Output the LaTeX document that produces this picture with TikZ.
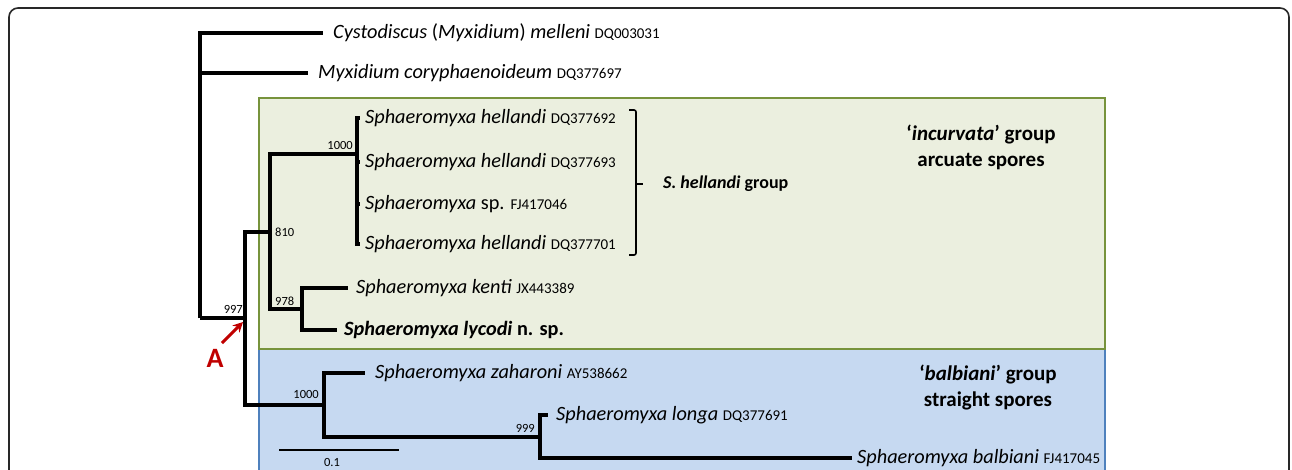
\documentclass[tikz,border=0pt]{standalone}
\usepackage{fontspec}
\setmainfont{Carlito}
\usetikzlibrary{arrows.meta,calc}
\definecolor{gfill}{RGB}{235,239,223}
\definecolor{gline}{RGB}{119,147,60}
\definecolor{bfill}{RGB}{198,217,241}
\definecolor{bline}{RGB}{79,129,189}
\definecolor{ared}{RGB}{192,0,0}
\definecolor{frame}{RGB}{40,40,40}
\newcommand{\acc}[1]{{\fontsize{15}{15}\selectfont #1}}
\begin{document}
\begin{tikzpicture}[x=1pt,y=-1pt,
  br/.style={line width=3.3pt, line join=miter},
  leaf/.style={anchor=west, inner ysep=0pt, font=\fontsize{20.3}{21}\selectfont},
  boot/.style={inner sep=1pt, font=\fontsize{12.5}{12.5}\selectfont},
  grp/.style={align=center, font=\bfseries\fontsize{21}{26}\selectfont}]
\useasboundingbox (0,0) rectangle (1292,469);
\clip (0,0) rectangle (1292,469);
% frame and group boxes
\draw[frame, line width=1.6pt, rounded corners=9pt] (9,8) rectangle (1289,520);
\draw[bline, fill=bfill, line width=1.6pt] (259,349) rectangle (1105,520);
\draw[gline, fill=gfill, line width=1.6pt] (259,98) rectangle (1105,349);
% internal nodes
\coordinate (r) at (200,318);
\coordinate (A) at (245,318);
\coordinate (n810) at (270,232);
\coordinate (nh) at (357,154);
\coordinate (n978) at (302,309);
\coordinate (nb) at (324,405);
\coordinate (n999) at (540,437);
% leaves
\node[leaf, inner xsep=10pt] (c1) at (323,33) {\textit{Cystodiscus} (\textit{Myxidium}) \textit{melleni} \acc{DQ003031}};
\node[leaf, inner xsep=10pt] (c2) at (308,73) {\textit{Myxidium coryphaenoideum} \acc{DQ377697}};
\node[leaf, inner xsep=5pt] (h1) at (360,118) {\textit{Sphaeromyxa hellandi} \acc{DQ377692}};
\node[leaf, inner xsep=5pt] (h2) at (360,162) {\textit{Sphaeromyxa hellandi} \acc{DQ377693}};
\node[leaf, inner xsep=5pt] (h3) at (360,204) {\textit{Sphaeromyxa} sp. \acc{FJ417046}};
\node[leaf, inner xsep=5pt] (h4) at (360,244) {\textit{Sphaeromyxa hellandi} \acc{DQ377701}};
\node[leaf, inner xsep=8pt] (k) at (348,288) {\textit{Sphaeromyxa kenti} \acc{JX443389}};
\node[leaf, inner xsep=7pt] (ly) at (337,330) {\bfseries\textit{Sphaeromyxa lycodi} n. sp.};
\node[leaf, inner xsep=10pt] (z) at (365,373) {\textit{Sphaeromyxa zaharoni} \acc{AY538662}};
\node[leaf, inner xsep=8pt] (lo) at (548,415) {\textit{Sphaeromyxa longa} \acc{DQ377691}};
\node[leaf, inner xsep=5pt] (ba) at (852,458) {\textit{Sphaeromyxa balbiani} \acc{FJ417045}};
% branches
\draw[br, line width=3.2pt] (r) |- (c1.west);
\draw[br, line width=3.2pt] (r) |- (c2.west);
\draw[br, line width=3.8pt] (r) -- (A);
\draw[br] (A) |- (n810);
\draw[br, line width=3.2pt] (A) |- (nb);
\draw[br] (n810) |- (nh);
\draw[br] (n810) |- (n978);
\draw[br] (nh) |- (h1.west);
\draw[br] (nh) |- (h2.west);
\draw[br] (nh) |- (h3.west);
\draw[br] (nh) |- (h4.west);
\draw[br] (n978) |- (k.west);
\draw[br] (n978) |- (ly.west);
\draw[br] (nb) |- (z.west);
\draw[br] (nb) |- (n999);
\draw[br] (n999) |- (lo.west);
\draw[br] (n999) |- (ba.west);
% bootstrap values
\node[boot, anchor=south east] (b997) at (244,315) {997};
\node[boot, anchor=west] (b810) at (274,232) {810};
\node[boot, anchor=south east] (b1000a) at (354,151) {1000};
\node[boot, anchor=south west] (b978) at (274,307) {978};
\node[boot, anchor=south east] (b1000b) at (320,400) {1000};
\node[boot, anchor=south east] (b999) at (536,434) {999};
% S. hellandi bracket
\node[anchor=west, inner xsep=20pt, font=\bfseries\fontsize{18}{18}\selectfont] (shg) at (643,184) {\textit{S. hellandi} group};
\coordinate (bt) at (636,110);
\coordinate (bb) at (636,255);
\draw[line width=1.6pt, rounded corners=2pt] ($(bt)+(-7,0)$) -- (bt) -- (bb) -- ($(bb)+(-7,0)$);
\draw[line width=1.6pt] (636,184) -- (shg.west);
% group labels
\node[grp] (ginc) at (981,147) {`\textit{incurvata}' group\\arcuate spores};
\node[grp] (gbal) at (988,388) {`\textit{balbiani}' group\\straight spores};
% A marker
\node[text=ared, font=\bfseries\fontsize{28}{28}\selectfont] (Alab) at (215,358) {A};
\coordinate (atail) at (222,343);
\coordinate (ahead) at (243,322);
\draw[ared, line width=3pt, -{Stealth[length=10pt,width=10pt]}] (atail) -- (ahead);
% scale bar
\coordinate (s1) at (279,450);
\coordinate (s2) at (399,450);
\draw[line width=2.4pt] (s1) -- (s2);
\node[boot] (sl) at (332,462) {0.1};
\end{tikzpicture}
\end{document}
